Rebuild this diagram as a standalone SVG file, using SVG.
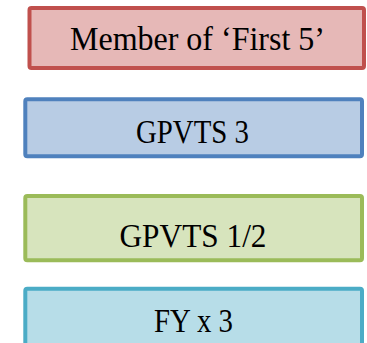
<svg xmlns="http://www.w3.org/2000/svg" width="367" height="343" viewBox="0 0 367 343">
<style>
.box{stroke-width:4}
.lbl{font-family:"Liberation Serif","DejaVu Serif",serif;font-size:33px;fill:#000;text-anchor:middle}
</style>
<rect width="367" height="343" fill="#fff"/>
<g id="node-first5">
<rect class="box" x="29.5" y="8" width="334.5" height="60" rx="2" fill="#E6B8B7" stroke="#C0504D"/>
<text class="lbl" x="197.5" y="50" textLength="255" lengthAdjust="spacingAndGlyphs">Member of ‘First 5’</text>
</g>
<g id="node-gpvts3">
<rect class="box" x="25.3" y="99.3" width="336.7" height="57" rx="2" fill="#B8CCE4" stroke="#4F81BD"/>
<text class="lbl" x="192.5" y="143.3" textLength="113" lengthAdjust="spacingAndGlyphs">GPVTS 3</text>
</g>
<g id="node-gpvts12">
<rect class="box" x="25.3" y="196" width="336.7" height="64.3" rx="2" fill="#D7E4BD" stroke="#9BBB59"/>
<text class="lbl" x="193" y="246.7" textLength="147" lengthAdjust="spacingAndGlyphs">GPVTS 1/2</text>
</g>
<g id="node-fy3">
<rect class="box" x="25.3" y="288.7" width="336.7" height="70" rx="2" fill="#B7DDE8" stroke="#4BACC6"/>
<text class="lbl" x="193.5" y="331.7" textLength="79" lengthAdjust="spacingAndGlyphs">FY x 3</text>
</g>
<g id="connectors"/>
</svg>
